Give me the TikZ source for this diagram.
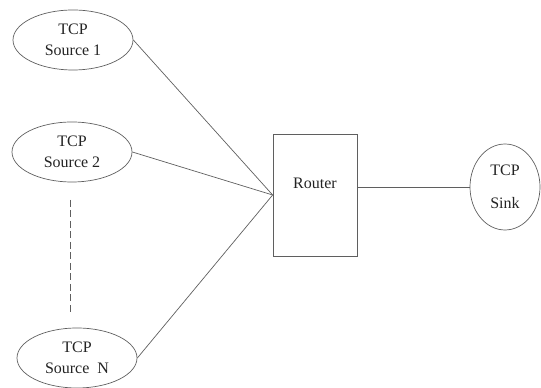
\documentclass[tikz,border=0pt]{standalone}
\usepackage{fontspec}
\setmainfont{Liberation Serif}
\usetikzlibrary{positioning,shapes.geometric}
\definecolor{LinkGray}{RGB}{95,95,95}
\definecolor{LabelGray}{RGB}{35,35,35}
\tikzset{
  link/.style={draw=LinkGray,line width=0.7pt},
  dotlink/.style={draw=LinkGray,line width=0.9pt,dash pattern=on 7pt off 3.5pt},
  source/.style={ellipse,draw=LinkGray,line width=0.7pt,inner sep=0pt,
    minimum width=120pt,minimum height=60pt,align=center,
    font=\fontsize{16}{21}\selectfont,text=LabelGray},
  sinknode/.style={ellipse,draw=LinkGray,line width=0.7pt,inner sep=0pt,
    minimum width=70pt,minimum height=86pt,align=center,
    font=\fontsize{16}{21}\selectfont,text=LabelGray},
  routerbox/.style={rectangle,draw=LinkGray,line width=0.7pt,
    minimum width=84pt,minimum height=122pt,
    font=\fontsize{16}{21}\selectfont,text=LabelGray}
}
\begin{document}
\begin{tikzpicture}[x=1pt,y=1pt]
  \useasboundingbox (0,0) rectangle (541,388);
  % senders on the left
  \node[source] (src1) at (73,348) {TCP\\Source 1};
  \node[source] (src2) at (72,236) {TCP\\Source 2};
  \node[source] (srcN) at (77,30) {TCP\\Source\ \ N};
  % router and receiver
  \node[routerbox,label={[yshift=12pt,font=\fontsize{16}{21}\selectfont,text=LabelGray]center:Router}] (router) at (315,193) {};
  \node[sinknode] (sink) at (505,201) {TCP\\[12pt]Sink};
  % more sources in between
  \coordinate (gapTop) at (70,188);
  \coordinate (gapBot) at (70,76);
  \draw[dotlink] (gapTop) -- (gapBot);
  % links
  \draw[link] (src1.east) -- (router.west);
  \draw[link] (src2.east) -- (router.west);
  \draw[link] (srcN.east) -- (router.west);
  \draw[link] (sink.west -| router.east) -- (sink.west);
\end{tikzpicture}
\end{document}
